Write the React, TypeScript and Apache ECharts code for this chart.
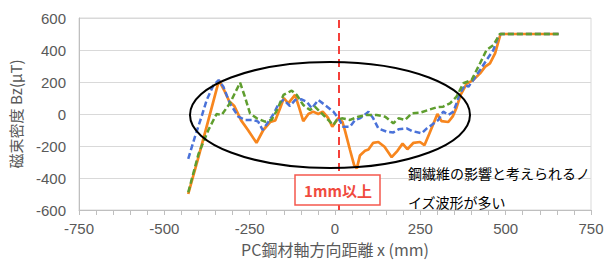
import React, { useEffect, useRef } from "react";
import * as echarts from "echarts";

const orangeData: [number, number][] = [
  [-430, -500], [-400, -270], [-370, -30], [-340, 210], [-325, 150], [-310, 80], [-295, 50],
  [-275, -40], [-255, -100], [-230, -180], [-210, -100], [-190, -50], [-175, -40], [-160, 40],
  [-150, 100], [-137, 67], [-117, 120], [-105, 40], [-93, -45], [-78, 0], [-64, 15], [-49, 0],
  [-36, 15], [-20, -25], [-8, -80], [10, -25], [22, -50], [30, -110], [44, -225], [56, -320],
  [64, -340], [73, -260], [88, -230], [98, -222], [112, -180], [127, -175], [145, -205],
  [166, -270], [183, -230], [198, -185], [212, -220], [230, -180], [249, -175], [262, -195],
  [276, -125], [300, 0], [312, -45], [332, -50], [345, -15], [356, 40], [368, 120], [386, 190],
  [405, 212], [425, 254], [440, 296], [454, 317], [469, 379], [485, 500], [655, 500],
];

const blueData: [number, number][] = [
  [-430, -280], [-410, -140], [-390, -10], [-376, 87], [-356, 180], [-341, 212], [-327, 170],
  [-308, 67], [-283, -17], [-264, -37], [-240, -37], [-225, -48], [-212, -100], [-195, -48],
  [-180, 0], [-166, 60], [-151, 90], [-132, 50], [-117, 87], [-98, 92], [-83, 77], [-68, 35],
  [-49, 87], [-29, 56], [-5, 15], [10, -27], [24, -80], [44, -80], [59, -37], [73, -27],
  [93, 4], [98, 15], [112, -27], [127, -90], [151, -110], [171, -115], [186, -96], [210, -90],
  [225, -106], [254, -121], [269, -90], [283, -69], [303, -37], [317, 15], [332, -6], [347, 15],
  [356, 67], [366, 129], [381, 181], [391, 171], [405, 212], [425, 275], [444, 337], [464, 400],
  [478, 483], [485, 500], [655, 500],
];

const greenData: [number, number][] = [
  [-430, -490], [-400, -250], [-371, -100], [-347, 0], [-332, -6], [-308, 67], [-278, 196],
  [-264, 108], [-249, 4], [-229, -27], [-205, -48], [-186, -37], [-171, 20], [-151, 119],
  [-127, 146], [-112, 119], [-93, 56], [-73, 25], [-59, 46], [-39, 4], [-20, -37], [-5, -69],
  [5, -37], [20, -27], [44, -37], [68, -17], [93, -6], [122, -6], [147, -17], [171, -58],
  [186, -27], [205, -37], [225, 4], [249, 8], [273, 25], [298, 42], [317, 46], [337, 67],
  [356, 108], [376, 192], [400, 212], [425, 317], [444, 400], [464, 431], [483, 500], [655, 500],
];

const markX = 12;
const xTitle = "PC鋼材軸方向距離 x (mm)";
const yTitle = "磁束密度 Bz(μT)";
const boxLabel = "1mm以上";
const noteLine1 = "鋼繊維の影響と考えられるノ";
const noteLine2 = "イズ波形が多い";

const FONT = "'Liberation Sans', 'Noto Sans CJK JP', sans-serif";
const CJK = "'Noto Sans CJK JP', sans-serif";

export default function App() {
  const ref = useRef<HTMLDivElement>(null);
  useEffect(() => {
    if (!ref.current) return;
    const chart = echarts.init(ref.current, undefined, { renderer: "svg" });
    chart.setOption({
      animation: false,
      backgroundColor: "#ffffff",
      grid: {
        left: 79, right: 21, top: 18, bottom: 52,
        show: true, borderColor: "#d9d9d9", borderWidth: 1,
      },
      xAxis: {
        type: "value", min: -750, max: 750, interval: 250,
        name: xTitle, nameLocation: "middle", nameGap: 30,
        nameTextStyle: { fontSize: 16, color: "#595959", fontFamily: CJK },
        axisLabel: { fontSize: 15, color: "#595959", margin: 11, fontFamily: FONT },
        axisLine: { onZero: false, lineStyle: { color: "#bfbfbf", width: 1 } },
        axisTick: { show: true, length: 5, lineStyle: { color: "#bfbfbf" } },
        minorTick: { show: true, splitNumber: 5, length: 5, lineStyle: { color: "#bfbfbf" } },
        splitLine: { show: false },
      },
      yAxis: {
        type: "value", min: -600, max: 600, interval: 200,
        name: yTitle, nameLocation: "middle", nameGap: 56, nameRotate: 90,
        nameTextStyle: { fontSize: 15, color: "#595959", fontFamily: CJK },
        axisLabel: { fontSize: 15, color: "#595959", margin: 13, fontFamily: FONT },
        axisLine: { show: true, onZero: false, lineStyle: { color: "#bfbfbf", width: 1 } },
        axisTick: { show: false },
        splitLine: { lineStyle: { color: "#d9d9d9", width: 1 } },
      },
      series: [
        {
          type: "line", data: blueData, symbol: "none", z: 3,
          lineStyle: { color: "#4a72d9", width: 2.5, type: [6, 3] },
        },
        {
          type: "line", data: greenData, symbol: "none", z: 4,
          lineStyle: { color: "#5f9e2f", width: 2.5, type: [6, 3] },
        },
        {
          type: "line", data: orangeData, symbol: "none", z: 2,
          lineStyle: { color: "#f7861e", width: 2.7 },
          markLine: {
            silent: true, symbol: "none", label: { show: false },
            lineStyle: { color: "#f5403a", width: 2, type: [8, 5] },
            data: [{ xAxis: markX }],
          },
        },
      ],
      graphic: [
        {
          type: "ellipse", z: 10,
          shape: { cx: 330, cy: 115, rx: 140, ry: 53 },
          style: { fill: "none", stroke: "#000000", lineWidth: 2 },
        },
        {
          type: "rect", z: 11,
          shape: { x: 295, y: 175, width: 85, height: 30 },
          style: { fill: "#ffffff", stroke: "#f5584e", lineWidth: 1.5 },
        },
        {
          type: "text", z: 12, x: 338, y: 190,
          style: {
            text: boxLabel, fill: "#f04a3e", font: `bold 15px ${CJK}`,
            align: "center", verticalAlign: "middle",
          },
        },
        {
          type: "text", z: 12, x: 408, y: 173,
          style: {
            text: noteLine1, fill: "#000000", font: `14px ${CJK}`,
            align: "left", verticalAlign: "middle",
          },
        },
        {
          type: "text", z: 12, x: 408, y: 202,
          style: {
            text: noteLine2, fill: "#000000", font: `14px ${CJK}`,
            align: "left", verticalAlign: "middle",
          },
        },
      ],
    });
    return () => chart.dispose();
  }, []);
  return (
    <div
      ref={ref}
      style={{ position: "fixed", left: 0, top: 0, width: 612, height: 262 }}
    />
  );
}
